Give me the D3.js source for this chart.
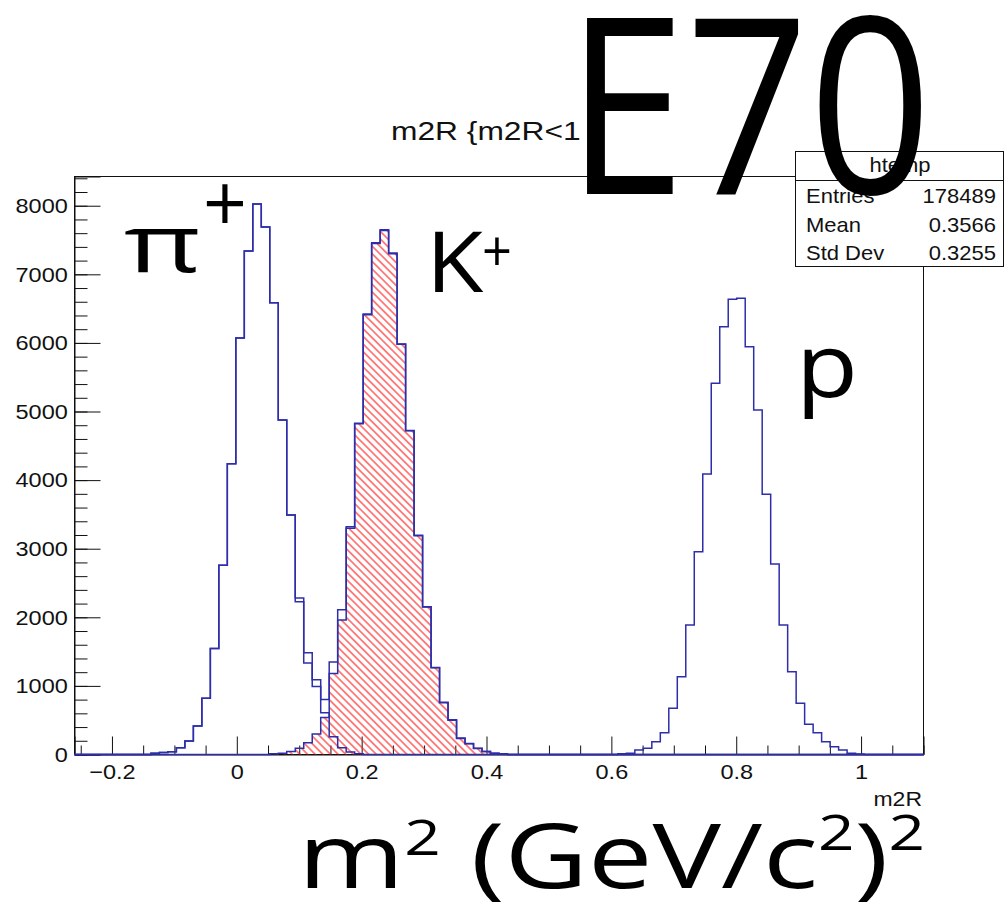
<!DOCTYPE html>
<html>
<head>
<meta charset="utf-8">
<script src="https://cdn.jsdelivr.net/npm/d3@7"></script>
<style>
  body { margin: 0; background: #fff; }
  svg { display: block; }
  text { font-family: "Liberation Sans", Arial, sans-serif; fill: #111; }
  .big { font-family: "Open Sans", "Noto Sans", sans-serif; fill: #000; }
</style>
</head>
<body>
<div id="chart"></div>
<script>
// binning of the m2R histogram: 100 bins from -0.26 to 1.1
const binLow = -0.26, binWidth = 0.0136, nBins = 100;

// all entries, pi+ and K+ region (bins 9..50)
const allStartA = 9;
const allCountsA = [20, 30, 40, 100, 195, 415, 820, 1545, 2760, 4240, 6070, 7340, 8025, 7690,
  6585, 4875, 3490, 2280, 1485, 1090, 800, 1350, 2110, 3320, 4830, 6420, 7460, 7650, 7310,
  5985, 4725, 3195, 2155, 1270, 760, 505, 240, 160, 90, 45, 20, 10];

// all entries, proton region (bins 64..92)
const allStartB = 64;
const allCountsB = [10, 20, 65, 90, 187, 318, 673, 1135, 1888, 2957, 4089, 5411, 6236, 6635,
  6650, 5945, 5022, 3793, 2777, 1888, 1207, 746, 440, 318, 187, 114, 65, 17, 8];

// pion selected (bins 9..33)
const pionStart = 9;
const pionCounts = [20, 30, 40, 100, 195, 415, 820, 1545, 2760, 4240, 6070, 7340, 8025, 7690,
  6585, 4875, 3490, 2225, 1335, 990, 610, 260, 100, 35, 12];

// kaon selected, hatched (bins 23..50)
const kaonStart = 23;
const kaonCounts = [10, 20, 45, 90, 170, 300, 540, 1180, 1960, 3300, 4820, 6410, 7450, 7640,
  7300, 5980, 4720, 3190, 2150, 1265, 755, 500, 235, 155, 88, 42, 18, 8];

// stats box
const statsName = 'htemp';
const statsLabels = ['Entries', 'Mean', 'Std Dev'];
const statsValues = ['178489', '0.3566', '0.3255'];

const W = 1005, H = 909;
const frame = { left: 74.5, right: 923.5, top: 176.5, bottom: 754.5 };
const yMax = 8426;
const blue = '#2e2eaa';

const svg = d3.select('#chart').append('svg')
  .attr('width', W).attr('height', H);

//hatch pattern for the kaon histogram
svg.append('defs').append('pattern')
  .attr('id', 'hatch')
  .attr('patternUnits', 'userSpaceOnUse')
  .attr('width', 5.4).attr('height', 10)
  .attr('patternTransform', 'rotate(-45)')
  .append('line')
  .attr('x1', 2.7).attr('y1', 0).attr('x2', 2.7).attr('y2', 10)
  .attr('stroke', '#ff2020').attr('stroke-width', 1.1);

//scales
const x = d3.scaleLinear().domain([binLow, binLow + nBins * binWidth]).range([frame.left, frame.right]);
const y = d3.scaleLinear().domain([0, yMax]).range([frame.bottom, frame.top]);

function fullBins(start, counts) {
  const a = new Array(nBins).fill(0);
  counts.forEach((c, i) => { a[start + i] += c; });
  return a;
}
const allEntries = fullBins(allStartA, allCountsA);
allCountsB.forEach((c, i) => { allEntries[allStartB + i] += c; });
const pion = fullBins(pionStart, pionCounts);
const kaon = fullBins(kaonStart, kaonCounts);

const edge = i => binLow + i * binWidth;
function stepPoints(vals) {
  const pts = vals.map((v, i) => [edge(i), v]);
  pts.push([edge(nBins), vals[nBins - 1]]);
  return pts;
}
const outline = d3.line().x(d => x(d[0])).y(d => y(d[1])).curve(d3.curveStepAfter);
const fillArea = d3.area().x(d => x(d[0])).y0(y(0)).y1(d => y(d[1])).curve(d3.curveStepAfter);

//frame
svg.append('rect')
  .attr('x', frame.left).attr('y', frame.top)
  .attr('width', frame.right - frame.left).attr('height', frame.bottom - frame.top)
  .attr('fill', 'none').attr('stroke', '#111').attr('stroke-width', 1);

//y axis, ticks pointing into the frame
const yAxisG = svg.append('g').attr('transform', `translate(${frame.left},0)`);
yAxisG.append('g')
  .call(d3.axisLeft(y).tickValues(d3.range(0, yMax, 200)).tickSize(-13).tickFormat(''))
  .call(g => g.select('.domain').remove());
yAxisG.append('g')
  .call(d3.axisLeft(y).tickValues(d3.range(0, 8001, 1000)).tickSize(-26).tickPadding(6).tickFormat(d3.format('d')))
  .call(g => g.select('.domain').attr('stroke', '#111'));

//x axis
const xMajor = d3.ticks(-0.26, 1.1, 7);
const xMinor = d3.ticks(-0.26, 1.1, 27).filter(v => !xMajor.some(m => Math.abs(m - v) < 1e-9));
const xAxisG = svg.append('g').attr('transform', `translate(0,${frame.bottom})`);
xAxisG.append('g')
  .call(d3.axisBottom(x).tickValues(xMinor).tickSize(-9).tickFormat(''))
  .call(g => g.select('.domain').remove());
xAxisG.append('g')
  .call(d3.axisBottom(x).tickValues(xMajor).tickSize(-18).tickPadding(10).tickFormat(d3.format('~g')))
  .call(g => g.select('.domain').attr('stroke', '#111'));

svg.selectAll('.tick line').attr('stroke', '#111');
svg.selectAll('.tick text')
  .attr('font-size', 21)
  .attr('font-family', '"Liberation Sans", Arial, sans-serif')
  .attr('fill', '#111');
yAxisG.selectAll('.tick text').attr('transform', 'scale(1.12,1)');
xAxisG.selectAll('.tick text').attr('transform', 'scale(1.12,1)');

//histograms
svg.append('path')
  .attr('d', fillArea(stepPoints(kaon)))
  .attr('fill', 'url(#hatch)');
[allEntries, pion, kaon].forEach(h => {
  svg.append('path')
    .attr('d', outline([[edge(0), 0], ...stepPoints(h), [edge(nBins), 0]]))
    .attr('fill', 'none')
    .attr('stroke', blue)
    .attr('stroke-width', 1.5);
});

//ROOT style texts
function rootText(px, py, str, size, anchor, sx) {
  return svg.append('text')
    .attr('transform', `translate(${px},${py}) scale(${sx},1)`)
    .attr('text-anchor', anchor)
    .attr('font-size', size)
    .text(str);
}
rootText(391, 140, 'm2R {m2R<1', 25, 'start', 1.27);
rootText(922, 806, 'm2R', 20, 'end', 1.15);

//stats box
const stats = svg.append('g');
stats.append('rect')
  .attr('x', 795.5).attr('y', 151.5).attr('width', 208).attr('height', 115)
  .attr('fill', '#fff').attr('stroke', '#111');
stats.append('line')
  .attr('x1', 795.5).attr('x2', 1003.5).attr('y1', 180.5).attr('y2', 180.5)
  .attr('stroke', '#111');
rootText(900, 172, statsName, 20, 'middle', 1.1);
statsLabels.forEach((l, i) => {
  rootText(806, 203 + i * 28.5, l, 20, 'start', 1.1);
  rootText(996, 203 + i * 28.5, statsValues[i], 20, 'end', 1.1);
});

//big annotation labels, fitted into a horizontal span
function bigText(parts, left, right, baseline, size) {
  const t = svg.append('text').attr('class', 'big').attr('font-size', size);
  parts.forEach(p => {
    t.append('tspan')
      .attr('font-size', p.size || size)
      .attr('dy', p.dy || 0)
      .text(p.t);
  });
  const bb = t.node().getBBox();
  const sx = (right - left) / bb.width;
  t.attr('transform', `translate(${left - bb.x * sx},${baseline}) scale(${sx},1)`);
  return t;
}

bigText([{ t: 'π' }], 124, 201, 272, 80);
bigText([{ t: '+' }], 203, 247, 232, 80);
bigText([{ t: 'K' }], 426, 484, 292, 84);
bigText([{ t: '+' }], 482, 512, 271, 56);
bigText([{ t: 'p' }], 796, 858, 397, 90);
bigText([
  { t: 'm' },
  { t: '2', size: 50, dy: -33 },
  { t: ' (GeV/c', dy: 33 },
  { t: '2', size: 50, dy: -38 },
  { t: ')', dy: 38 },
  { t: '2', size: 50, dy: -38 }
], 298, 925, 888, 90);
bigText([{ t: 'E70' }], 566, 932, 194, 245);
</script>
</body>
</html>
